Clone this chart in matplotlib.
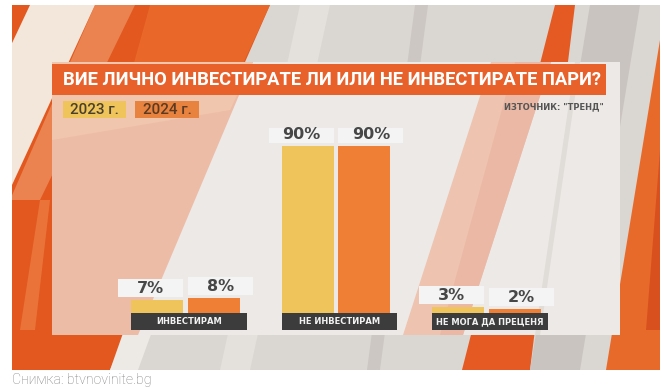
import numpy as np
import matplotlib
matplotlib.use("Agg")
import matplotlib.pyplot as plt
from matplotlib.patches import Polygon, Rectangle

plt.rcParams['font.family'] = ['Roboto', 'DejaVu Sans']

# data
categories = ['ИНВЕСТИРАМ', 'НЕ ИНВЕСТИРАМ', 'НЕ МОГА ДА ПРЕЦЕНЯ']
years = ['2023 г.', '2024 г.']
values_2023 = [7, 90, 3]
values_2024 = [8, 90, 2]
title = 'ВИЕ ЛИЧНО ИНВЕСТИРАТЕ ЛИ ИЛИ НЕ ИНВЕСТИРАТЕ ПАРИ?'
source = 'ИЗТОЧНИК: "ТРЕНД"'
caption = 'Снимка: btvnovinite.bg'

c_yellow = '#EFC45A'
c_orange = '#EE7F35'
c_title = '#E8602A'
c_dark = '#3C3C3C'

fig = plt.figure(figsize=(6.64, 3.88), dpi=100)
fig.patch.set_facecolor('white')

# background "studio" layer in pixel coordinates
bg = fig.add_axes([0, 0, 1, 1])
bg.set_xlim(0, 664)
bg.set_ylim(388, 0)
bg.axis('off')

frame = Rectangle((12, 5), 648, 365, facecolor='#DAD6D2', edgecolor='none')
bg.add_patch(frame)

stripes = [
    ([(-220, 5), (270, 5), (110, 370), (-370, 370)], '#E2581F', 1),
    ([(150, 5), (270, 5), (120, 330), (60, 330)], '#EA6C2C', 0.8),
    ([(30, 5), (95, 5), (12, 185), (-55, 185)], '#F3E6DA', 1),
    ([(95, 5), (135, 5), (40, 200), (10, 200)], '#F0A070', 0.6),
    ([(20, 330), (35, 330), (50, 200), (40, 200)], '#EC7A40', 0.8),
    ([(110, 370), (138, 370), (200, 200), (170, 200)], '#EDE9E5', 1),
    ([(415, 5), (428, 5), (380, 370), (367, 370)], '#CCC7C2', 1),
    ([(300, 5), (330, 5), (250, 370), (220, 370)], '#E4E0DC', 1),
    ([(555, 5), (575, 5), (530, 370), (462, 370)], '#E45A22', 1),
    ([(590, 5), (640, 5), (580, 370), (530, 370)], '#C9C4BF', 1),
    ([(660, 40), (660, 370), (606, 370)], '#E86A2A', 1),
    ([(660, 150), (660, 330), (646, 330)], '#D2451A', 0.7),
]
for pts, col, a in stripes:
    p = Polygon(pts, closed=True, facecolor=col, edgecolor='none', alpha=a)
    bg.add_patch(p)
    p.set_clip_path(frame)

# frosted panel
panel = Rectangle((52, 62), 568, 273, facecolor='#ECE9E6', edgecolor='none')
bg.add_patch(panel)
# orange stripes seen through the panel
for pts, col in [
    ([(52, 62), (253, 62), (138, 335), (52, 335)], '#EDBCA7'),
    ([(52, 62), (253, 62), (230, 110), (52, 140)], '#F0C6AE'),
    ([(491, 62), (551, 62), (463, 335), (403, 335)], '#EEC3B0'),
    ([(515, 62), (551, 62), (463, 335), (440, 335)], '#EBB8A5'),
    ([(575, 62), (580, 62), (540, 335), (535, 335)], '#E0DCD8'),
]:
    p = Polygon(pts, closed=True, facecolor=col, edgecolor='none')
    bg.add_patch(p)
    p.set_clip_path(panel)

bg.add_patch(Rectangle((52, 64), 554, 31, facecolor=c_title, edgecolor='none'))
bg.text(63, 80, title, color='white', fontsize=13.2, fontweight='bold', ha='left', va='center')

# legend boxes
bg.add_patch(Rectangle((63, 101), 63, 17, facecolor=c_yellow, edgecolor='none'))
bg.add_patch(Rectangle((135, 101), 64, 17, facecolor='#E8823F', edgecolor='none'))
bg.text(94.5, 110, years[0], color='#4A4030', fontsize=11, fontweight='medium', ha='center', va='center')
bg.text(167, 110, years[1], color='#5A3A22', fontsize=11, fontweight='medium', ha='center', va='center')
bg.text(604, 107, source, color='#555555', fontsize=6, fontweight='bold', ha='right', va='center',
        family='DejaVu Sans')

bg.text(12, 380, caption, color='#808080', fontsize=10.2, fontweight='light', ha='left', va='center')

# bar chart axes: x = group index, y = percent
ax = fig.add_axes([12 / 664, (388 - 335.3) / 388, 650 / 664, 207.8 / 388])
ax.set_xlim(-1.153, 3.166)
ax.set_ylim(-12, 100)
ax.axis('off')
ax.patch.set_alpha(0)

x = np.arange(len(categories))
w = 0.3455
off = 0.189
px = 1 / 150.5          # one pixel in x data units
py = 1 / 1.855          # one pixel in y data units

ax.bar(x - off, values_2023, width=w, color=c_yellow, zorder=2)
ax.bar(x + off, values_2024, width=w, color=c_orange, zorder=2)

for i in range(len(categories)):
    # value boxes
    for vals, side in ((values_2023, -1), (values_2024, 1)):
        v = vals[i]
        xc = x[i] + side * off
        left = xc - w / 2 - 13 * px if side < 0 else xc - w / 2
        bw = w + 13 * px
        ax.add_patch(Rectangle((left, v + 3 * py), bw, 18 * py, facecolor='#F4F4F4',
                               edgecolor='none', zorder=3))
        ax.text(left + bw / 2, v + 12 * py, f'{v}%', color='#474747', fontsize=11.5,
                fontweight='bold', ha='center', va='center', zorder=4, family='DejaVu Sans')
    # category label bar
    l0 = x[i] - off - w / 2
    lw = 2 * off + w + 7 * px
    ax.add_patch(Rectangle((l0, -17 * py), lw, 17 * py, facecolor=c_dark, edgecolor='none', zorder=3))
    ax.text(l0 + lw / 2, -8.5 * py, categories[i], color='#F2F2F2', fontsize=6,
            fontweight='bold', ha='center', va='center', zorder=4, family='DejaVu Sans')

plt.savefig('out.png', dpi=100)
